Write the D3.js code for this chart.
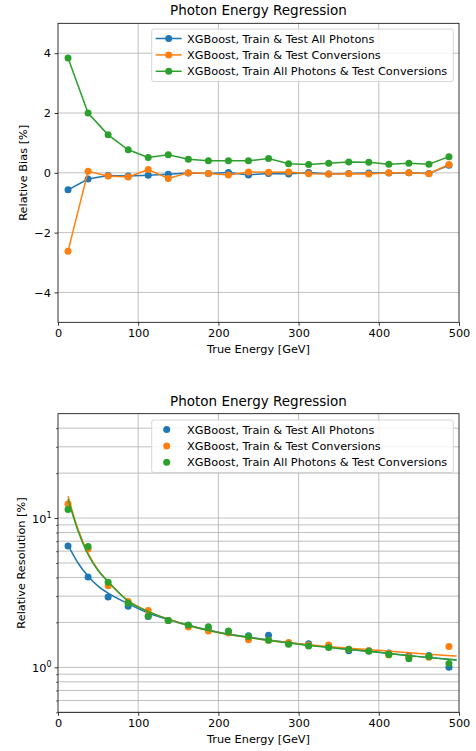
<!DOCTYPE html>
<html>
<head>
<meta charset="utf-8">
<script src="https://cdn.jsdelivr.net/npm/d3@7"></script>
<style>
  body { margin: 0; background: #fff; }
  svg text { font-family: "DejaVu Sans", sans-serif; fill: #000; }
</style>
</head>
<body>
<div id="chart"></div>
<script>
// bin centres (GeV)
var energy = [12.5, 37.5, 62.5, 87.5, 112.5, 137.5, 162.5, 187.5, 212.5, 237.5,
              262.5, 287.5, 312.5, 337.5, 362.5, 387.5, 412.5, 437.5, 462.5, 487.5];

var seriesNames = ["XGBoost, Train & Test All Photons",
                   "XGBoost, Train & Test Conversions",
                   "XGBoost, Train All Photons & Test Conversions"];
var colors = ["#1f77b4", "#ff7f0e", "#2ca02c"];

// relative bias [%]
var biasAll  = [-0.57, -0.21, -0.09, -0.11, -0.08, -0.05, -0.01, -0.02, 0.01, -0.07,
                -0.02, -0.04, 0.01, -0.04, -0.02, -0.01, -0.01, 0.0, -0.02, 0.25];
var biasConv = [-2.62, 0.05, -0.11, -0.14, 0.11, -0.19, 0.0, -0.02, -0.07, 0.03,
                0.02, 0.03, -0.03, -0.04, -0.03, -0.04, 0.0, 0.0, -0.03, 0.28];
var biasMix  = [3.84, 2.0, 1.27, 0.77, 0.51, 0.6, 0.45, 0.40, 0.40, 0.40,
                0.48, 0.30, 0.28, 0.32, 0.36, 0.35, 0.29, 0.32, 0.29, 0.54];

// relative resolution [%]
var resAll  = [6.5, 4.03, 2.96, 2.57, 2.19, 2.06, 1.9, 1.8, 1.73, 1.63,
               1.64, 1.45, 1.44, 1.38, 1.29, 1.29, 1.25, 1.19, 1.2, 1.0];
var resConv = [12.4, 6.2, 3.52, 2.76, 2.4, 2.06, 1.86, 1.75, 1.70, 1.53,
               1.52, 1.47, 1.41, 1.41, 1.32, 1.29, 1.21, 1.17, 1.17, 1.38];
var resMix  = [11.4, 6.44, 3.71, 2.69, 2.21, 2.06, 1.92, 1.87, 1.75, 1.61,
               1.52, 1.43, 1.39, 1.36, 1.32, 1.28, 1.22, 1.14, 1.18, 1.06];

// fitted resolution curves
var fitEnergy = [12.5, 25, 37.5, 50, 62.5, 87.5, 112.5, 150, 200, 250, 300, 350, 400, 450, 497];
var fitAll  = [6.6, 5.0, 4.07, 3.5, 3.14, 2.67, 2.31, 2.0, 1.72, 1.56, 1.44, 1.34, 1.26, 1.18, 1.12];
var fitConv = [14.0, 8.4, 5.8, 4.5, 3.75, 2.8, 2.37, 2.0, 1.71, 1.55, 1.44, 1.36, 1.30, 1.24, 1.19];
var fitMix  = [13.4, 8.2, 5.7, 4.45, 3.75, 2.78, 2.36, 2.0, 1.71, 1.55, 1.43, 1.34, 1.26, 1.18, 1.12];

var xTicks = [0, 100, 200, 300, 400, 500];
var biasTicks = [-4, -2, 0, 2, 4];

var W = 476, H = 751;
var FS = "11.3px";   // tick / label / legend size
var svg = d3.select("#chart").append("svg").attr("width", W).attr("height", H);

var left = 58, right = 459;
var x = d3.scaleLinear().domain([0, 500]).range([left, right]);
var gridColor = "#b0b0b0";

function fmtMinus(d) { return String(d).replace("-", "\u2212"); }

function frame(top, bottom, title) {
	svg.append("text").attr("x", (left + right) / 2).attr("y", top - 8)
		.attr("text-anchor", "middle").style("font-size", "13.5px").text(title);
	svg.append("text").attr("x", (left + right) / 2).attr("y", bottom + 31)
		.attr("text-anchor", "middle").style("font-size", FS).text("True Energy [GeV]");
	// x grid
	svg.append("g").selectAll("line").data(xTicks.slice(1, -1)).enter().append("line")
		.attr("x1", x).attr("x2", x).attr("y1", top).attr("y2", bottom)
		.attr("stroke", gridColor).attr("stroke-width", 0.8);
	var ax = svg.append("g").attr("transform", "translate(0," + bottom + ")")
		.call(d3.axisBottom(x).tickValues(xTicks).tickSize(3.5).tickPadding(3.5));
	ax.select(".domain").remove();
	ax.selectAll("line").attr("stroke-width", 0.8);
	ax.selectAll("text").style("font-size", FS).attr("font-family", "DejaVu Sans");
}

function border(top, bottom) {
	svg.append("rect").attr("x", left).attr("y", top)
		.attr("width", right - left).attr("height", bottom - top)
		.attr("fill", "none").attr("stroke", "#000").attr("stroke-width", 0.8);
}

function legend(top, withLines) {
	var g = svg.append("g");
	g.append("rect").attr("x", 151.7).attr("y", top).attr("width", 301.6).attr("height", 52.5)
		.attr("rx", 2).attr("fill", "#fff").attr("fill-opacity", 0.8)
		.attr("stroke", "#cccccc").attr("stroke-width", 0.8);
	seriesNames.forEach(function(name, i) {
		var cy = top + 9.5 + i * 16.4;
		if (withLines) {
			g.append("line").attr("x1", 155.7).attr("x2", 181.7).attr("y1", cy).attr("y2", cy)
				.attr("stroke", colors[i]).attr("stroke-width", 1.5);
			g.append("circle").attr("cx", 168.7).attr("cy", cy).attr("r", 3.5).attr("fill", colors[i]);
		} else {
			g.append("circle").attr("cx", 166.7).attr("cy", cy).attr("r", 3.5).attr("fill", colors[i]);
		}
		g.append("text").attr("x", 187).attr("y", cy + 4).style("font-size", FS).text(name);
	});
}

// ---------- top: relative bias ----------
(function() {
	var top = 23.3, bottom = 322.3;
	var y = d3.scaleLinear().domain([-5, 5]).range([bottom, top]);
	frame(top, bottom, "Photon Energy Regression");
	svg.append("g").selectAll("line").data(biasTicks).enter().append("line")
		.attr("x1", left).attr("x2", right).attr("y1", y).attr("y2", y)
		.attr("stroke", gridColor).attr("stroke-width", 0.8);
	var ay = svg.append("g").attr("transform", "translate(" + left + ",0)")
		.call(d3.axisLeft(y).tickValues(biasTicks).tickSize(3.5).tickPadding(3.5).tickFormat(fmtMinus));
	ay.select(".domain").remove();
	ay.selectAll("line").attr("stroke-width", 0.8);
	ay.selectAll("text").style("font-size", FS).attr("font-family", "DejaVu Sans");
	svg.append("text").attr("transform", "translate(27," + ((top + bottom) / 2) + ") rotate(-90)")
		.attr("text-anchor", "middle").style("font-size", FS).text("Relative Bias [%]");

	var line = d3.line().x(function(d, i) { return x(energy[i]); }).y(function(d) { return y(d); });
	[biasAll, biasConv, biasMix].forEach(function(vals, k) {
		svg.append("path").datum(vals).attr("d", line).attr("fill", "none")
			.attr("stroke", colors[k]).attr("stroke-width", 1.5);
		svg.append("g").selectAll("circle").data(vals).enter().append("circle")
			.attr("cx", function(d, i) { return x(energy[i]); })
			.attr("cy", function(d) { return y(d); })
			.attr("r", 3.5).attr("fill", colors[k]);
	});
	border(top, bottom);
	legend(29, true);
})();

// ---------- bottom: relative resolution ----------
(function() {
	var top = 413.7, bottom = 712.3;
	var y = d3.scaleLog().domain([0.5, 50]).range([bottom, top]);
	frame(top, bottom, "Photon Energy Regression");
	var minor = [0.5, 0.6, 0.7, 0.8, 0.9, 2, 3, 4, 5, 6, 7, 8, 9, 20, 30, 40];
	var major = [1, 10];
	svg.append("g").selectAll("line").data(minor.concat(major)).enter().append("line")
		.attr("x1", left).attr("x2", right).attr("y1", y).attr("y2", y)
		.attr("stroke", gridColor).attr("stroke-width", 0.8);
	var gMinor = svg.append("g").attr("transform", "translate(" + left + ",0)")
		.call(d3.axisLeft(y).tickValues(minor).tickSize(2).tickFormat(""));
	gMinor.select(".domain").remove();
	gMinor.selectAll("line").attr("stroke-width", 0.6);
	var gMajor = svg.append("g").attr("transform", "translate(" + left + ",0)")
		.call(d3.axisLeft(y).tickValues(major).tickSize(3.5).tickPadding(3.5).tickFormat(""));
	gMajor.select(".domain").remove();
	gMajor.selectAll("line").attr("stroke-width", 0.8);
	major.forEach(function(v, i) {
		var t = svg.append("text").attr("x", 51.5).attr("y", y(v) + 4.5)
			.attr("text-anchor", "end").style("font-size", FS);
		t.append("tspan").text("10");
		t.append("tspan").attr("dy", -4.5).style("font-size", "8px").text(String(i));
	});
	svg.append("text").attr("transform", "translate(25," + ((top + bottom) / 2) + ") rotate(-90)")
		.attr("text-anchor", "middle").style("font-size", FS).text("Relative Resolution [%]");

	svg.append("clipPath").attr("id", "clipRes").append("rect")
		.attr("x", left).attr("y", top).attr("width", right - left).attr("height", bottom - top);
	var curve = d3.line().curve(d3.curveMonotoneX)
		.x(function(d, i) { return x(fitEnergy[i]); }).y(function(d) { return y(d); });
	var pts = [resAll, resConv, resMix], fits = [fitAll, fitConv, fitMix];
	pts.forEach(function(vals, k) {
		svg.append("g").selectAll("circle").data(vals).enter().append("circle")
			.attr("cx", function(d, i) { return x(energy[i]); })
			.attr("cy", function(d) { return y(d); })
			.attr("r", 3.5).attr("fill", colors[k]);
		svg.append("path").datum(fits[k]).attr("d", curve).attr("fill", "none")
			.attr("clip-path", "url(#clipRes)")
			.attr("stroke", colors[k]).attr("stroke-width", 1.5);
	});
	border(top, bottom);
	legend(420, false);
})();
</script>
</body>
</html>
